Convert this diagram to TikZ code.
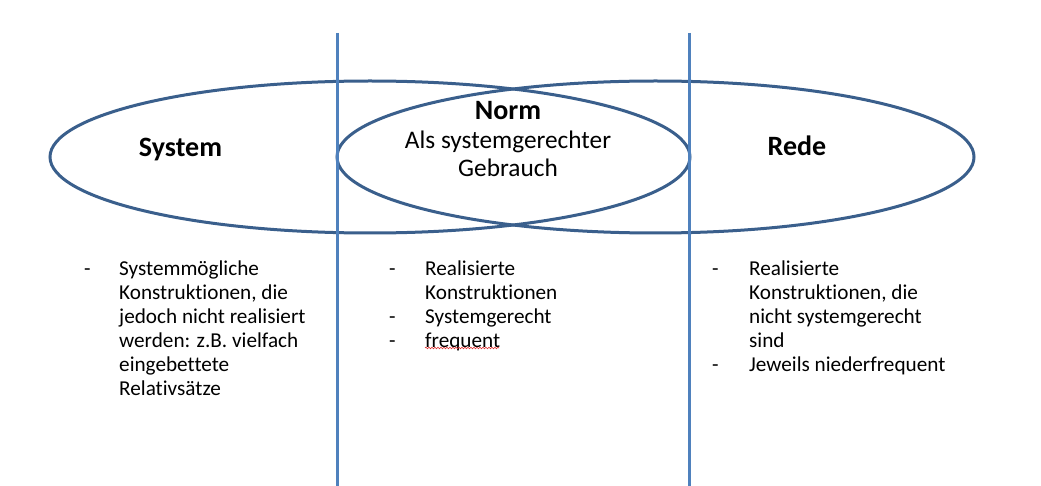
\documentclass[tikz,border=0pt]{standalone}
\usepackage{fontspec}
\setmainfont{Carlito}[Ligatures=NoCommon]
\usetikzlibrary{shapes.geometric,decorations.pathmorphing}
\definecolor{ellcol}{HTML}{3A5F8C}
\definecolor{vcol}{HTML}{4F81BD}
\definecolor{spellred}{HTML}{E03030}
\begin{document}
\begin{tikzpicture}[x=1pt,y=-1pt,
  ell/.style={draw=ellcol, line width=3pt, ellipse, inner sep=0pt, minimum height=152pt},
  vline/.style={draw=vcol, line width=3pt},
  title/.style={font=\fontsize{28}{32}\selectfont\bfseries, inner sep=0pt, anchor=base},
  normtext/.style={font=\fontsize{25.3}{28.5}\selectfont, inner sep=0pt, anchor=base},
  itemlist/.style={font=\fontsize{21.2}{24}\selectfont, inner sep=0pt, anchor=base west}]
\useasboundingbox (0,0) rectangle (1041,486);
\fill[white] (0,0) rectangle (1041,486);
% ellipses
\node[ell, minimum width=640pt] (sysell) at (370,157) {};
\node[ell, minimum width=637pt] (redeell) at (655.5,157) {};
% vertical lines
\coordinate (v1t) at (337,33);
\coordinate (v1b) at (337,486);
\coordinate (v2t) at (689,33);
\coordinate (v2b) at (689,486);
\draw[vline] (v1t) -- (v1b);
\draw[vline] (v2t) -- (v2b);
% titles
\node[title] (system) at (180.5,157) {System};
\node[title] (rede) at (797,156) {Rede};
\node[title] (norm) at (508,120) {Norm};
\node[normtext] (als) at (508,149) {Als systemgerechter};
\node[normtext] (gebrauch) at (508,177) {Gebrauch};
% lists
\node[itemlist] (leftlist) at (84,276) {\begin{tabular}[t]{@{}p{35pt}@{}l@{}}
- & Systemmögliche\\
 & Konstruktionen, die\\
 & jedoch nicht realisiert\\
 & werden: z.B. vielfach\\
 & eingebettete\\
 & Relativsätze
\end{tabular}};
\node[itemlist] (midlist) at (389,276) {\begin{tabular}[t]{@{}p{36pt}@{}l@{}}
- & Realisierte\\
 & Konstruktionen\\
- & Systemgerecht\\
- & frequent
\end{tabular}};
\node[itemlist] (rightlist) at (712,276) {\begin{tabular}[t]{@{}p{37pt}@{}l@{}}
- & Realisierte\\
 & Konstruktionen, die\\
 & nicht systemgerecht\\
 & sind\\
- & Jeweils niederfrequent
\end{tabular}};
% spell-check underline
\draw[spellred, line width=0.6pt, decorate, decoration={snake, amplitude=0.8pt, segment length=3pt}] (425,348) -- (499,348);
\end{tikzpicture}
\end{document}
